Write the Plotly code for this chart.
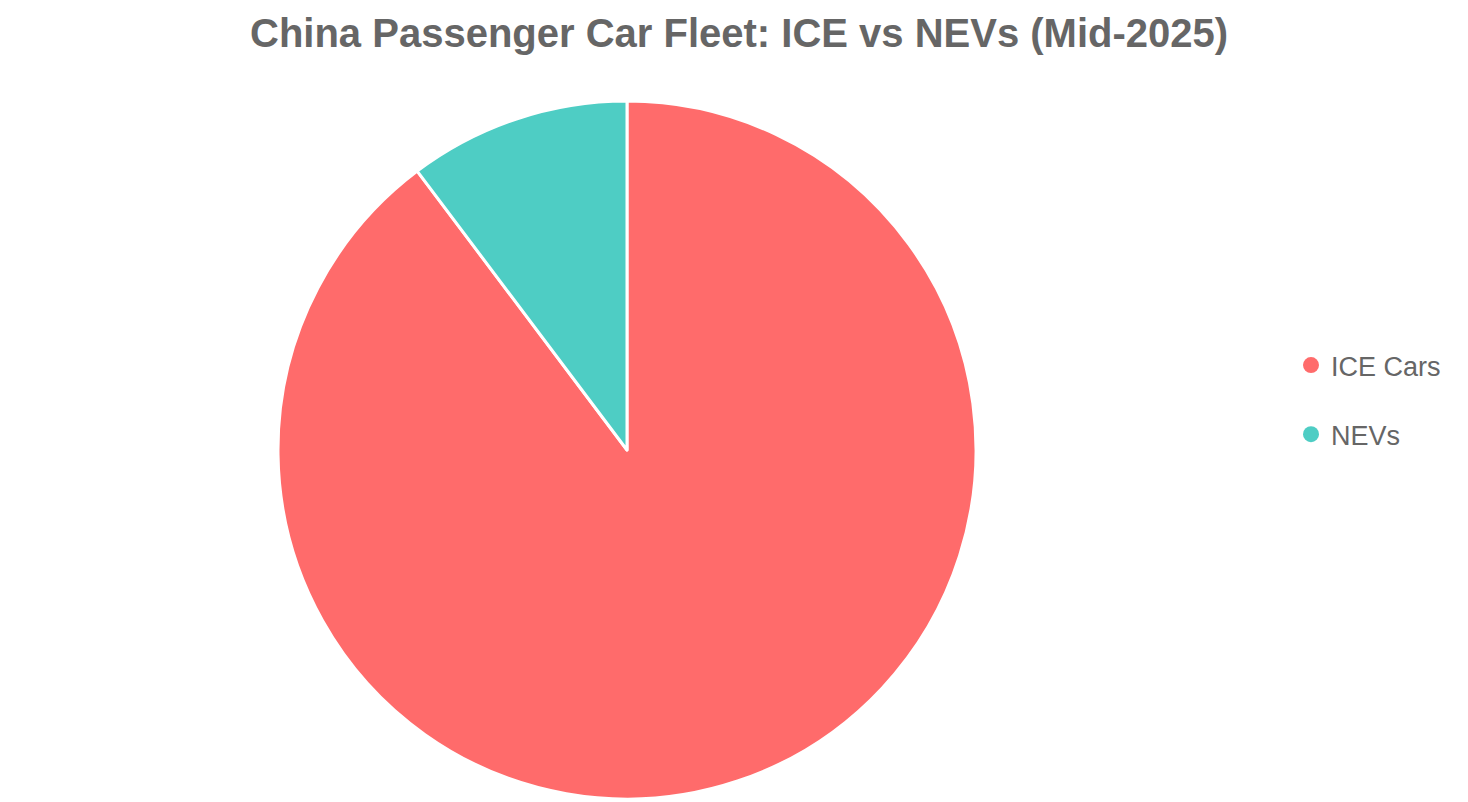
import plotly.graph_objects as go

categories = ["ICE Cars", "NEVs"]
values = [322.6, 36.9]  # million vehicles (estimated)
colors = ["#FF6B6B", "#4ECDC4"]

fig = go.Figure()
fig.add_trace(go.Pie(
    labels=categories, values=values, sort=False, direction="clockwise", rotation=0,
    marker=dict(colors=colors, line=dict(color="white", width=3)),
    textinfo="none", hoverinfo="label+value+percent", showlegend=False,
))
for i, (c, col) in enumerate(zip(categories, colors)):
    fig.add_trace(go.Scatter(
        x=[None], y=[None], mode="markers", name=c, legendgroup=f"g{i}",
        marker=dict(symbol="circle", size=17, color=col), showlegend=True, hoverinfo="skip",
    ))

fig.update_layout(
    width=1468, height=802,
    paper_bgcolor="white", plot_bgcolor="white",
    margin=dict(l=72, r=302, t=93, b=11),
    title=dict(text="<b>China Passenger Car Fleet: ICE vs NEVs (Mid-2025)</b>",
               x=0.498, xanchor="center", y=1 - 25 / 802, yanchor="middle",
               font=dict(family="Liberation Sans, Arial, Helvetica, sans-serif", size=40, color="#666666")),
    xaxis=dict(visible=False), yaxis=dict(visible=False),
    legend=dict(xref="container", yref="container", x=1283 / 1468, xanchor="left",
                y=1 - 392 / 802, yanchor="middle", tracegroupgap=31,
                font=dict(family="Liberation Sans, Arial, Helvetica, sans-serif", size=27, color="#666666"),
                bgcolor="rgba(0,0,0,0)"),
)
fig.write_html("out.html")
